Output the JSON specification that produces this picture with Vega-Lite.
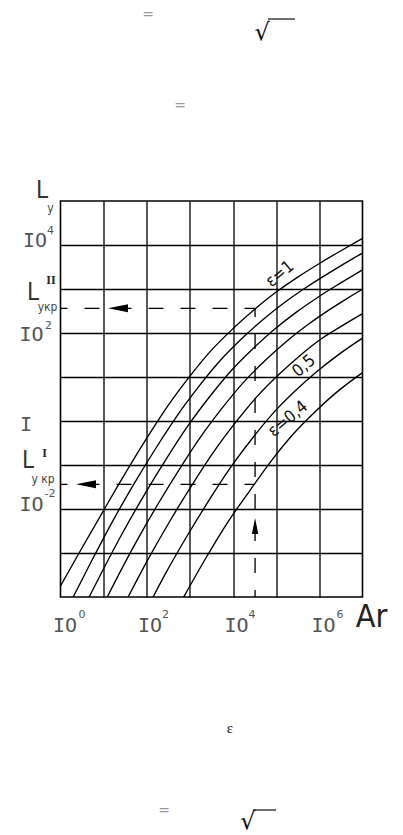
{
  "$schema": "https://vega.github.io/schema/vega-lite/v6.json",
  "width": 302,
  "height": 396,
  "autosize": "none",
  "padding": {"left": 60.5, "top": 201, "right": 40.5, "bottom": 238},
  "background": "white",
  "config": {
    "view": {"stroke": "black", "strokeWidth": 1.6},
    "font": "DejaVu Sans"
  },
  "datasets": {
    "curves": [
      {"eps": "1", "Ar": 1, "Ly": 0.0001778},
      {"eps": "1", "Ar": 3.162, "Ly": 0.001318},
      {"eps": "1", "Ar": 10, "Ly": 0.009333},
      {"eps": "1", "Ar": 31.62, "Ly": 0.06457},
      {"eps": "1", "Ar": 100, "Ly": 0.4074},
      {"eps": "1", "Ar": 316.2, "Ly": 2.291},
      {"eps": "1", "Ar": 1000, "Ly": 10.47},
      {"eps": "1", "Ar": 3162, "Ly": 40.74},
      {"eps": "1", "Ar": 10000, "Ly": 125.9},
      {"eps": "1", "Ar": 31623, "Ly": 346.7},
      {"eps": "1", "Ar": 100000, "Ly": 851.1},
      {"eps": "1", "Ar": 316228, "Ly": 1862},
      {"eps": "1", "Ar": 1000000, "Ly": 3802},
      {"eps": "1", "Ar": 3162278, "Ly": 7413},
      {"eps": "1", "Ar": 10000000, "Ly": 14125},

      {"eps": "0.9", "Ar": 1.968, "Ly": 0.0001},
      {"eps": "0.9", "Ar": 5.212, "Ly": 0.0006486},
      {"eps": "0.9", "Ar": 16.48, "Ly": 0.005458},
      {"eps": "0.9", "Ar": 52.12, "Ly": 0.03917},
      {"eps": "0.9", "Ar": 164.8, "Ly": 0.2466},
      {"eps": "0.9", "Ar": 521.2, "Ly": 1.384},
      {"eps": "0.9", "Ar": 1648, "Ly": 6.295},
      {"eps": "0.9", "Ar": 5212, "Ly": 24.66},
      {"eps": "0.9", "Ar": 16482, "Ly": 77.09},
      {"eps": "0.9", "Ar": 52120, "Ly": 211.8},
      {"eps": "0.9", "Ar": 164820, "Ly": 514.0},
      {"eps": "0.9", "Ar": 521200, "Ly": 1125},
      {"eps": "0.9", "Ar": 1648200, "Ly": 2291},
      {"eps": "0.9", "Ar": 5212000, "Ly": 4539},
      {"eps": "0.9", "Ar": 10000000, "Ly": 6531},

      {"eps": "0.8", "Ar": 4.613, "Ly": 0.0001},
      {"eps": "0.8", "Ar": 9.12, "Ly": 0.0003707},
      {"eps": "0.8", "Ar": 28.84, "Ly": 0.003119},
      {"eps": "0.8", "Ar": 91.2, "Ly": 0.02239},
      {"eps": "0.8", "Ar": 288.4, "Ly": 0.1409},
      {"eps": "0.8", "Ar": 912, "Ly": 0.7907},
      {"eps": "0.8", "Ar": 2884, "Ly": 3.597},
      {"eps": "0.8", "Ar": 9120, "Ly": 14.09},
      {"eps": "0.8", "Ar": 28840, "Ly": 44.06},
      {"eps": "0.8", "Ar": 91200, "Ly": 121.1},
      {"eps": "0.8", "Ar": 288400, "Ly": 293.8},
      {"eps": "0.8", "Ar": 912000, "Ly": 642.7},
      {"eps": "0.8", "Ar": 2884000, "Ly": 1309},
      {"eps": "0.8", "Ar": 10000000, "Ly": 2729},

      {"eps": "0.7", "Ar": 12.11, "Ly": 0.0001},
      {"eps": "0.7", "Ar": 17.21, "Ly": 0.0001963},
      {"eps": "0.7", "Ar": 54.45, "Ly": 0.001652},
      {"eps": "0.7", "Ar": 172.2, "Ly": 0.01186},
      {"eps": "0.7", "Ar": 544.5, "Ly": 0.07464},
      {"eps": "0.7", "Ar": 1722, "Ly": 0.4188},
      {"eps": "0.7", "Ar": 5445, "Ly": 1.905},
      {"eps": "0.7", "Ar": 17220, "Ly": 7.464},
      {"eps": "0.7", "Ar": 54450, "Ly": 23.33},
      {"eps": "0.7", "Ar": 172200, "Ly": 64.12},
      {"eps": "0.7", "Ar": 544500, "Ly": 155.6},
      {"eps": "0.7", "Ar": 1722000, "Ly": 340.4},
      {"eps": "0.7", "Ar": 5445000, "Ly": 693.4},
      {"eps": "0.7", "Ar": 10000000, "Ly": 997.7},

      {"eps": "0.6", "Ar": 36.9, "Ly": 0.0001},
      {"eps": "0.6", "Ar": 113.2, "Ly": 0.0007943},
      {"eps": "0.6", "Ar": 358.1, "Ly": 0.005702},
      {"eps": "0.6", "Ar": 1132, "Ly": 0.03589},
      {"eps": "0.6", "Ar": 3581, "Ly": 0.2014},
      {"eps": "0.6", "Ar": 11324, "Ly": 0.9162},
      {"eps": "0.6", "Ar": 35810, "Ly": 3.589},
      {"eps": "0.6", "Ar": 113240, "Ly": 11.22},
      {"eps": "0.6", "Ar": 358100, "Ly": 30.83},
      {"eps": "0.6", "Ar": 1132400, "Ly": 74.82},
      {"eps": "0.6", "Ar": 3581000, "Ly": 151.4},
      {"eps": "0.6", "Ar": 10000000, "Ly": 275.4},

      {"eps": "0.5", "Ar": 140.3, "Ly": 0.0001},
      {"eps": "0.5", "Ar": 269.1, "Ly": 0.0003342},
      {"eps": "0.5", "Ar": 851, "Ly": 0.002399},
      {"eps": "0.5", "Ar": 2691, "Ly": 0.0151},
      {"eps": "0.5", "Ar": 8510, "Ly": 0.08472},
      {"eps": "0.5", "Ar": 26910, "Ly": 0.3855},
      {"eps": "0.5", "Ar": 85100, "Ly": 1.51},
      {"eps": "0.5", "Ar": 269100, "Ly": 4.721},
      {"eps": "0.5", "Ar": 851000, "Ly": 12.97},
      {"eps": "0.5", "Ar": 2691000, "Ly": 31.48},
      {"eps": "0.5", "Ar": 10000000, "Ly": 76.38},

      {"eps": "0.4", "Ar": 717.8, "Ly": 0.0001},
      {"eps": "0.4", "Ar": 2456, "Ly": 0.0008318},
      {"eps": "0.4", "Ar": 7767, "Ly": 0.005236},
      {"eps": "0.4", "Ar": 24560, "Ly": 0.0263},
      {"eps": "0.4", "Ar": 77670, "Ly": 0.1259},
      {"eps": "0.4", "Ar": 245600, "Ly": 0.5012},
      {"eps": "0.4", "Ar": 776700, "Ly": 1.585},
      {"eps": "0.4", "Ar": 2456000, "Ly": 4.416},
      {"eps": "0.4", "Ar": 10000000, "Ly": 12.59}
    ],
    "guides": [
      {"Ar": 1, "Ly": 363.1, "Ar2": 32360, "Ly2": 363.1},
      {"Ar": 1, "Ly": 0.0363, "Ar2": 32360, "Ly2": 0.0363},
      {"Ar": 32360, "Ly": 0.0001, "Ar2": 32360, "Ly2": 363.1}
    ],
    "arrowsH": [
      {"Ar": 21.52, "Ly": 363.1},
      {"Ar": 3.9, "Ly": 0.0363}
    ],
    "arrowsV": [
      {"Ar": 32360, "Ly": 0.00411}
    ],
    "base": [
      {"Ar": 0.2564, "Ly": 12330, "label": "IO"},
      {"Ar": 0.2128, "Ly": 90.1, "label": "IO"},
      {"Ar": 0.1585, "Ly": 0.811, "label": "I"},
      {"Ar": 0.2128, "Ly": 0.01265, "label": "IO"},
      {"Ar": 1.271, "Ly": 0.00002138, "label": "IO"},
      {"Ar": 118.7, "Ly": 0.00002138, "label": "IO"},
      {"Ar": 12010, "Ly": 0.00002138, "label": "IO"},
      {"Ar": 1247000, "Ly": 0.00002138, "label": "IO"}
    ],
    "exps": [
      {"Ar": 0.5861, "Ly": 20800, "label": "4"},
      {"Ar": 0.527, "Ly": 146.6, "label": "2"},
      {"Ar": 0.571, "Ly": 0.02193, "label": "-2"},
      {"Ar": 3.15, "Ly": 0.00003899, "label": "0"},
      {"Ar": 271.5, "Ly": 0.00003899, "label": "2"},
      {"Ar": 27460, "Ly": 0.00003899, "label": "4"},
      {"Ar": 3008000, "Ly": 0.00003899, "label": "6"}
    ],
    "Ls": [
      {"Ar": 0.3725, "Ly": 164500, "label": "L"},
      {"Ar": 0.2305, "Ly": 831.8, "label": "L"},
      {"Ar": 0.1765, "Ly": 0.1233, "label": "L"}
    ],
    "subs": [
      {"Ar": 0.5861, "Ly": 69340, "label": "у"},
      {"Ar": 0.4998, "Ly": 390, "label": "укр"},
      {"Ar": 0.3928, "Ly": 0.04808, "label": "у кр"}
    ],
    "romans": [
      {"Ar": 0.6026, "Ly": 1603, "label": "II"},
      {"Ar": 0.4257, "Ly": 0.1923, "label": "I"}
    ],
    "axisname": [
      {"Ar": 16180000, "Ly": 0.00003508, "label": "Ar"}
    ],
    "curvelabels": [
      {"Ar": 122400, "Ly": 2193, "label": "ε=1"},
      {"Ar": 440600, "Ly": 17.78, "label": "0,5"},
      {"Ar": 187600, "Ly": 1.11, "label": "ε=0,4"}
    ],
    "equals": [
      {"Ar": 106.7, "Ly": 1687000000, "label": "="},
      {"Ar": 588.8, "Ly": 14420000, "label": "="},
      {"Ar": 250.6, "Ly": 0.000000001368, "label": "="}
    ],
    "epsnote": [
      {"Ar": 8492, "Ly": 0.0000001054, "label": "ε"}
    ],
    "roots": [
      {"Ar": 46880, "Ly": 657700000, "label": "√"},
      {"Ar": 22180, "Ly": 0.000000000769, "label": "√"}
    ],
    "bars": [
      {"Ar": 64560, "Ar2": 272500, "Ly": 1368000000},
      {"Ar": 28970, "Ar2": 98850, "Ly": 0.000000001442}
    ]
  },
  "encoding": {
    "x": {
      "field": "Ar",
      "type": "quantitative",
      "scale": {"type": "log", "domain": [1, 10000000], "nice": false, "zero": false},
      "axis": {
        "values": [10, 100, 1000, 10000, 100000, 1000000],
        "grid": true, "labels": false, "ticks": false, "domain": false, "title": null,
        "gridColor": "black", "gridWidth": 1.3, "gridOpacity": 1
      }
    },
    "y": {
      "field": "Ly",
      "type": "quantitative",
      "scale": {"type": "log", "domain": [0.0001, 100000], "nice": false, "zero": false},
      "axis": {
        "values": [0.001, 0.01, 0.1, 1, 10, 100, 1000, 10000],
        "grid": true, "labels": false, "ticks": false, "domain": false, "title": null,
        "gridColor": "black", "gridWidth": 1.3, "gridOpacity": 1
      }
    }
  },
  "layer": [
    {
      "data": {"name": "curves"},
      "mark": {"type": "line", "color": "black", "strokeWidth": 1.35, "interpolate": "monotone", "clip": true},
      "encoding": {"detail": {"field": "eps", "type": "nominal"}}
    },
    {
      "data": {"name": "guides"},
      "mark": {"type": "rule", "color": "black", "strokeWidth": 1.3, "strokeDash": [15, 17], "strokeDashOffset": 8},
      "encoding": {"x2": {"field": "Ar2"}, "y2": {"field": "Ly2"}}
    },
    {
      "data": {"name": "arrowsH"},
      "mark": {"type": "point", "shape": "M-1,0L1,-0.4L1,0.4Z", "size": 400, "filled": true, "color": "black", "opacity": 1, "strokeWidth": 0},
      "encoding": {}
    },
    {
      "data": {"name": "arrowsV"},
      "mark": {"type": "point", "shape": "M0,-1L0.4,1L-0.4,1Z", "size": 256, "filled": true, "color": "black", "opacity": 1, "strokeWidth": 0},
      "encoding": {}
    },
    {
      "data": {"name": "base"},
      "mark": {"type": "text", "font": "DejaVu Sans Mono", "fontSize": 20, "color": "#555555", "align": "center", "baseline": "middle"},
      "encoding": {"text": {"field": "label"}}
    },
    {
      "data": {"name": "exps"},
      "mark": {"type": "text", "font": "DejaVu Sans", "fontSize": 11, "color": "#555555", "align": "center", "baseline": "middle"},
      "encoding": {"text": {"field": "label"}}
    },
    {
      "data": {"name": "Ls"},
      "mark": {"type": "text", "font": "Liberation Sans Narrow, DejaVu Sans Condensed, sans-serif", "fontSize": 24, "color": "#333333", "align": "center", "baseline": "middle"},
      "encoding": {"text": {"field": "label"}}
    },
    {
      "data": {"name": "subs"},
      "mark": {"type": "text", "font": "Liberation Sans Narrow, DejaVu Sans Condensed, sans-serif", "fontSize": 12, "color": "#444444", "align": "center", "baseline": "middle"},
      "encoding": {"text": {"field": "label"}}
    },
    {
      "data": {"name": "romans"},
      "mark": {"type": "text", "font": "Liberation Serif", "fontSize": 12, "fontWeight": "bold", "color": "#222222", "align": "center", "baseline": "middle"},
      "encoding": {"text": {"field": "label"}}
    },
    {
      "data": {"name": "axisname"},
      "mark": {"type": "text", "font": "Liberation Sans Narrow, DejaVu Sans Condensed, sans-serif", "fontSize": 32, "color": "#222222", "align": "center", "baseline": "middle"},
      "encoding": {"text": {"field": "label"}}
    },
    {
      "data": {"name": "curvelabels"},
      "mark": {"type": "text", "font": "DejaVu Sans Condensed, DejaVu Sans", "fontSize": 17, "color": "#111111", "align": "center", "baseline": "middle", "angle": -40},
      "encoding": {"text": {"field": "label"}}
    },
    {
      "data": {"name": "equals"},
      "mark": {"type": "text", "font": "DejaVu Sans", "fontSize": 14, "color": "#999999", "align": "center", "baseline": "middle"},
      "encoding": {"text": {"field": "label"}}
    },
    {
      "data": {"name": "epsnote"},
      "mark": {"type": "text", "font": "Liberation Serif", "fontSize": 15, "color": "#222222", "align": "center", "baseline": "middle"},
      "encoding": {"text": {"field": "label"}}
    },
    {
      "data": {"name": "roots"},
      "mark": {"type": "text", "font": "DejaVu Sans", "fontSize": 24, "color": "#111111", "align": "center", "baseline": "middle"},
      "encoding": {"text": {"field": "label"}}
    },
    {
      "data": {"name": "bars"},
      "mark": {"type": "rule", "color": "#111111", "strokeWidth": 1.2},
      "encoding": {"x2": {"field": "Ar2"}}
    }
  ]
}
